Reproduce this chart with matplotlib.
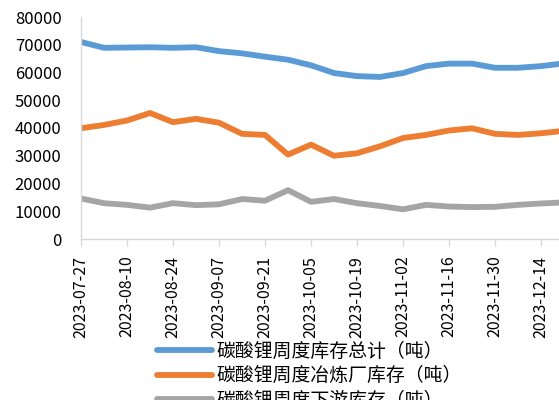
import matplotlib
matplotlib.use("Agg")
import matplotlib.pyplot as plt

plt.rcParams['font.family'] = ['Noto Sans CJK SC', 'DejaVu Sans']

dates = ["2023-07-27", "2023-08-03", "2023-08-10", "2023-08-17", "2023-08-24",
         "2023-08-31", "2023-09-07", "2023-09-14", "2023-09-21", "2023-09-28",
         "2023-10-05", "2023-10-12", "2023-10-19", "2023-10-26", "2023-11-02",
         "2023-11-09", "2023-11-16", "2023-11-23", "2023-11-30", "2023-12-07",
         "2023-12-14", "2023-12-21"]

total = [71000, 68900, 69000, 69100, 68900, 69100, 67700, 66900, 65700, 64600,
         62600, 59800, 58700, 58400, 59800, 62300, 63200, 63200, 61700, 61700,
         62300, 63300]
smelter = [39900, 41100, 42700, 45400, 42100, 43300, 41900, 37900, 37500, 30400,
           34000, 30000, 30900, 33400, 36400, 37500, 39100, 39900, 37900, 37500,
           38100, 39000]
downstream = [14600, 12900, 12300, 11300, 12900, 12200, 12500, 14400, 13800, 17600,
              13400, 14400, 12900, 11900, 10700, 12300, 11700, 11500, 11600, 12300,
              12800, 13200]

labels = ["碳酸锂周度库存总计（吨）", "碳酸锂周度冶炼厂库存（吨）", "碳酸锂周度下游库存（吨）"]
colors = ["#5B9BD5", "#ED7D31", "#A5A5A5"]

W, H = 559, 400
fig = plt.figure(figsize=(W / 100, H / 100), dpi=100)
ax = fig.add_axes([81 / W, (H - 239) / H, (564 - 81) / W, (239 - 17) / H])

x = list(range(len(dates)))
for series, lab, c in zip([total, smelter, downstream], labels, colors):
    ax.plot(x, series, color=c, lw=4.2, label=lab, solid_capstyle='round',
            solid_joinstyle='round')

ax.set_xlim(0, len(dates) - 1)
ax.set_ylim(0, 80000)
ax.set_yticks(range(0, 80001, 10000))
ax.set_yticklabels([str(v) for v in range(0, 80001, 10000)], fontsize=12)
ax.set_xticks(x[::2])
ax.set_xticklabels(dates[::2], rotation=90, fontsize=11.5)

ax.tick_params(axis='y', length=0, pad=14, colors='#000000')
ax.tick_params(axis='x', length=5, width=1, color='#D9D9D9', pad=7)
for s in ['top', 'right']:
    ax.spines[s].set_visible(False)
for s in ['left', 'bottom']:
    ax.spines[s].set_color('#D9D9D9')
    ax.spines[s].set_linewidth(1)
ax.patch.set_visible(False)

fig.legend(loc='upper left', bbox_to_anchor=(157 / W, (H - 340.5) / H),
           frameon=False, handlelength=2.9, handletextpad=0.27,
           labelspacing=0.2, borderpad=0, borderaxespad=0,
           prop={'size': 13.6})

fig.savefig("out.png", dpi=100)
